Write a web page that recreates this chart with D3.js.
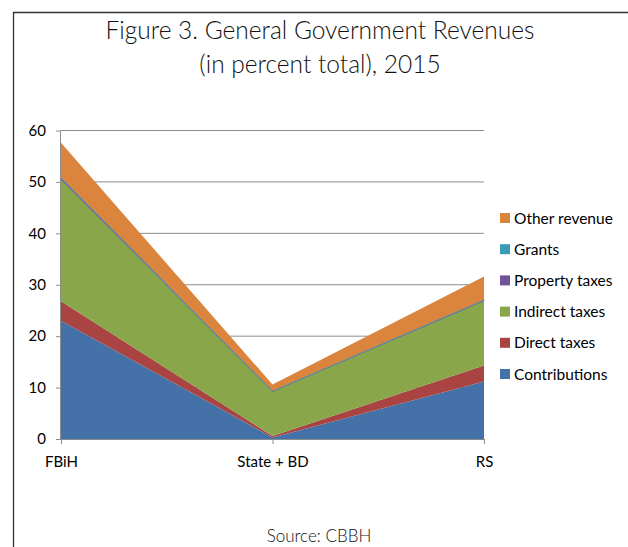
<!DOCTYPE html>
<html>
<head>
<meta charset="utf-8">
<script src="https://cdn.jsdelivr.net/npm/d3@7"></script>
<style>
  html, body { margin: 0; padding: 0; background: #fff; }
  svg { display: block; }
  .title { font-family: Lato, "Open Sans", sans-serif; font-size: 24.5px; font-weight: 300; fill: #111; }
  .lbl { font-family: Lato, "Open Sans", sans-serif; font-size: 15px; fill: #000; }
  .leg { font-family: Lato, "Open Sans", sans-serif; font-size: 15.5px; fill: #000; }
  .src { font-family: Lato, "Open Sans", sans-serif; font-size: 17px; font-weight: 300; fill: #111; }
</style>
</head>
<body>
<svg id="chart" width="628" height="547"></svg>
<script>
// Revenue composition by entity (percent of total), 2015
const categories = ["FBiH", "State + BD", "RS"];
const seriesNames = ["Contributions", "Direct taxes", "Indirect taxes", "Property taxes", "Grants", "Other revenue"];
const contributions = [23.0, 0.3, 11.2];
const directTaxes   = [3.8, 0.3, 3.1];
const indirectTaxes = [23.7, 8.7, 12.6];
const propertyTaxes = [0.3, 0.0, 0.1];
const grants        = [0.1, 0.1, 0.1];
const otherRevenue  = [6.7, 1.2, 4.5];
const yTicks = [0, 10, 20, 30, 40, 50, 60];
const colors = ["#4472a8", "#a94442", "#89a64b", "#6f5597", "#3a9bb5", "#db843d"];

const seriesValues = [contributions, directTaxes, indirectTaxes, propertyTaxes, grants, otherRevenue];
const rows = categories.map((c, i) => {
  const r = { cat: c };
  seriesNames.forEach((s, k) => { r[s] = seriesValues[k][i]; });
  return r;
});

const svg = d3.select("#chart");

// outer frame (top and left edges)
svg.append("path")
  .attr("d", "M13.5,547 L13.5,12.5 L628,12.5")
  .attr("fill", "none").attr("stroke", "#333").attr("stroke-width", 1.3);

// title
svg.append("text").attr("class", "title").attr("x", 320).attr("y", 39)
  .attr("text-anchor", "middle").text("Figure 3. General Government Revenues");
svg.append("text").attr("class", "title").attr("x", 320).attr("y", 73)
  .attr("text-anchor", "middle").text("(in percent total), 2015");

const x = d3.scalePoint().domain(categories).range([61, 484]);
const y = d3.scaleLinear().domain([0, 60]).range([439, 130.5]);

// gridlines
svg.append("g").selectAll("line").data(yTicks.filter(t => t > 0)).join("line")
  .attr("x1", 61).attr("x2", 484)
  .attr("y1", d => y(d)).attr("y2", d => y(d))
  .attr("stroke", "#8c8c8c").attr("stroke-width", 1);

// stacked areas
const stack = d3.stack().keys(seriesNames);
const layers = stack(rows);
const area = d3.area()
  .x(d => x(d.data.cat))
  .y0(d => y(d[0]))
  .y1(d => y(d[1]));
svg.append("g").selectAll("path").data(layers).join("path")
  .attr("d", area)
  .attr("fill", (d, i) => colors[i])
  .attr("stroke", (d, i) => (i === 3 || i === 4) ? colors[i] : "none")
  .attr("stroke-width", (d, i) => (i === 3 || i === 4) ? 0.8 : 0);

// y axis
const yAxis = svg.append("g").attr("transform", "translate(61,0)")
  .call(d3.axisLeft(y).tickValues(yTicks).tickSize(5).tickPadding(10).tickFormat(d3.format("d")));
yAxis.select(".domain").attr("stroke", "#8c8c8c").attr("d", `M-0.5,${y(60)}V${y(0)}`);
yAxis.selectAll(".tick line").attr("stroke", "#8c8c8c");
yAxis.selectAll("text").attr("class", "lbl").attr("fill", "#000");

// x axis
const xAxis = svg.append("g").attr("transform", `translate(0,${y(0)})`)
  .call(d3.axisBottom(x).tickSize(5).tickPadding(12));
xAxis.select(".domain").attr("stroke", "#8c8c8c").attr("d", `M61,0.5H484`);
xAxis.selectAll(".tick line").attr("stroke", "#8c8c8c");
xAxis.selectAll("text").attr("class", "lbl").attr("fill", "#000");

// legend (top entry is the top layer)
const legendItems = seriesNames.map((s, i) => ({ name: s, color: colors[i] })).reverse();
const lg = svg.append("g").selectAll("g").data(legendItems).join("g")
  .attr("transform", (d, i) => `translate(500,${218 + i * 31.2})`);
lg.append("rect").attr("x", 0).attr("y", -5).attr("width", 10).attr("height", 10)
  .attr("fill", d => d.color);
lg.append("text").attr("class", "leg").attr("x", 14).attr("y", 5.5).text(d => d.name);

// source note
svg.append("text").attr("class", "src").attr("x", 319).attr("y", 542)
  .attr("text-anchor", "middle").text("Source: CBBH");
</script>
</body>
</html>
